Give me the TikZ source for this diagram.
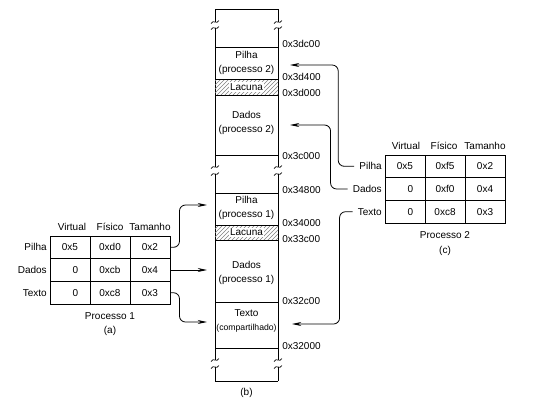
\documentclass[tikz,border=0pt]{standalone}
\usepackage{fontspec}
\setmainfont{Liberation Sans}
\usetikzlibrary{arrows.meta,patterns}

\tikzset{
  txt/.style={inner sep=0.75pt, font=\fontsize{7.5}{11}\selectfont, align=center},
  cell/.style={txt, draw, line width=0.7pt, minimum width=30pt, minimum height=17pt},
  wall/.style={line width=0.7pt},
  conn/.style={line width=0.6pt, rounded corners=4.5pt, -{Stealth[length=7pt,width=3pt]}},
}

\begin{document}
\begin{tikzpicture}[x=0.75pt,y=0.75pt,yscale=-1,xscale=1]
\useasboundingbox (0,0) rectangle (533,408);

%Memory column walls
\draw [wall] (215,9) -- (215,22) (215,28) -- (215,167) (215,174) -- (215,360) (215,367) -- (215,381) ;
\draw [wall] (278,9) -- (278,22) (278,28) -- (278,167) (278,174) -- (278,360) (278,367) -- (278,381) ;
%Break marks
\foreach \x in {215,278}
  \foreach \y in {22,28,167,174,360,367}
    \draw [line width=0.5pt] (\x-4,\y+1.5) .. controls (\x-1.5,\y-3) and (\x+1.5,\y+3) .. (\x+4,\y-1.5) ;

%Hatched gaps
\fill [pattern=north east lines, pattern color=gray] (215,79) rectangle (278,95) ;
\fill [pattern=north east lines, pattern color=gray] (215,225) rectangle (278,240) ;

%Horizontal lines
\draw [wall] (215,9) -- (278,9) ;
\draw [wall] (215,47) -- (278,47) ;
\draw [wall] (215,79) -- (278,79) ;
\draw [wall] (215,95) -- (278,95) ;
\draw [wall] (215,155) -- (278,155) ;
\draw [wall] (215,193) -- (278,193) ;
\draw [wall] (215,225) -- (278,225) ;
\draw [wall] (215,240) -- (278,240) ;
\draw [wall] (215,302) -- (278,302) ;
\draw [wall] (215,348) -- (278,348) ;
\draw [wall] (215,381) -- (278,381) ;

% Segment texts
\node [txt] (pilha2) at (246.5,63) {Pilha\\(processo 2)};
\node [txt, fill=white, inner sep=1pt] (lacuna2) at (246.5,87) {Lacuna};
\node [txt] (dados2) at (246.5,123) {Dados\\(processo 2)};
\node [txt] (pilha1) at (246.5,208) {Pilha\\(processo 1)};
\node [txt, fill=white, inner sep=1pt] (lacuna1) at (246.5,232.5) {Lacuna};
\node [txt] (dados1) at (246.5,273) {Dados\\(processo 1)};
\node [txt] (texto) at (246.5,321) {Texto\\{\fontsize{6.5}{8}\selectfont(compartilhado)}};
\node [txt] (lblb) at (246.5,393) {(b)};

% Address labels
\node [txt, anchor=west] (ad1) at (281,44) {0x3dc00};
\node [txt, anchor=west] (ad2) at (281,77) {0x3d400};
\node [txt, anchor=west] (ad3) at (281,93) {0x3d000};
\node [txt, anchor=west] (ad4) at (281,156) {0x3c000};
\node [txt, anchor=west] (ad5) at (281,190) {0x34800};
\node [txt, anchor=west] (ad6) at (281,223) {0x34000};
\node [txt, anchor=west] (ad7) at (281,239) {0x33c00};
\node [txt, anchor=west] (ad8) at (281,301) {0x32c00};
\node [txt, anchor=west] (ad9) at (281,346) {0x32000};

% Table (a)
\node [txt] (avirt) at (72,227) {Virtual};
\node [txt] (afis) at (110,227) {Físico};
\node [txt] (atam) at (150,227) {Tamanho};
\node [txt, anchor=east] (apilha) at (48,247.3) {Pilha};
\node [txt, anchor=east] (adados) at (48,270) {Dados};
\node [txt, anchor=east] (atexto) at (48,292.7) {Texto};
\node [cell] (a11) at (70,247.3) {0x5};
\node [cell] (a12) at (110,247.3) {0xd0};
\node [cell] (a13) at (150,247.3) {0x2};
\node [cell] (a21) at (70,270) {\phantom{0x}0};
\node [cell] (a22) at (110,270) {0xcb};
\node [cell] (a23) at (150,270) {0x4};
\node [cell] (a31) at (70,292.7) {\phantom{0x}0};
\node [cell] (a32) at (110,292.7) {0xc8};
\node [cell] (a33) at (150,292.7) {0x3};
\node [txt] (aproc) at (110,316) {Processo 1};
\node [txt] (lbla) at (110,331) {(a)};

% Table (c)
\node [txt] (cvirt) at (406,146) {Virtual};
\node [txt] (cfis) at (444,146) {Físico};
\node [txt] (ctam) at (485,146) {Tamanho};
\node [txt, anchor=east] (cpilha) at (383,166.3) {Pilha};
\node [txt, anchor=east] (cdados) at (383,189) {Dados};
\node [txt, anchor=east] (ctexto) at (383,211.7) {Texto};
\node [cell] (c11) at (405,166.3) {0x5};
\node [cell] (c12) at (445,166.3) {0xf5};
\node [cell] (c13) at (485,166.3) {0x2};
\node [cell] (c21) at (405,189) {\phantom{0x}0};
\node [cell] (c22) at (445,189) {0xf0};
\node [cell] (c23) at (485,189) {0x4};
\node [cell] (c31) at (405,211.7) {\phantom{0x}0};
\node [cell] (c32) at (445,211.7) {0xc8};
\node [cell] (c33) at (485,211.7) {0x3};
\node [txt] (cproc) at (445,235) {Processo 2};
\node [txt] (lblc) at (445,251) {(c)};

% Arrow ends
\coordinate (pilha1in) at (207,205) ;
\coordinate (dados1in) at (207,270) ;
\coordinate (texto1in) at (207,322) ;
\coordinate (pilha2in) at (290,65) ;
\coordinate (dados2in) at (290,125) ;
\coordinate (texto2in) at (292,324) ;

% Connectors
\draw [conn] (a13.east) -- ++(9,0) |- (pilha1in) ;
\draw [conn] (a23.east) -- (dados1in) ;
\draw [conn] (a33.east) -- ++(9,0) |- (texto1in) ;
\draw [conn] ([xshift=-3pt]cpilha.west) -- ++(-16,0) |- (pilha2in) ;
\draw [conn] ([xshift=-3pt]cdados.west) -- ++(-17,0) |- (dados2in) ;
\draw [conn] ([xshift=-3pt]ctexto.west) -- ++(-13,0) |- (texto2in) ;

\end{tikzpicture}
\end{document}
